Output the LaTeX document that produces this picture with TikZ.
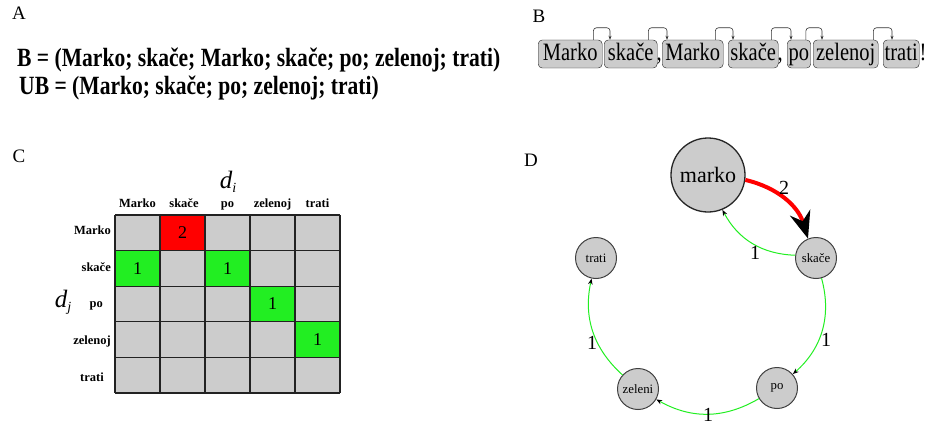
\documentclass[tikz,border=0pt]{standalone}
\usepackage{fontspec}
\setmainfont{Liberation Serif}
\newfontfamily\tallfont{Liberation Serif}[FakeStretch=0.82]
\usetikzlibrary{arrows.meta,calc}
\definecolor{cellgray}{HTML}{CCCCCC}
\definecolor{gr}{HTML}{22EE22}
\definecolor{rd}{HTML}{FF0000}
\definecolor{edgegray}{HTML}{222222}
\begin{document}
\begin{tikzpicture}[x=1pt,y=-1pt,
  panel/.style={inner sep=0pt,font=\fontsize{19}{19}\selectfont},
  sent/.style={anchor=west,inner sep=0pt,font=\tallfont\bfseries\fontsize{26.3}{27}\selectfont},
  wbox/.style={anchor=west,draw=edgegray,fill=cellgray,rounded corners=4pt,inner xsep=1.5pt,inner ysep=2pt,
     text height=18.4pt,text depth=5.6pt,font=\tallfont\fontsize{25}{25}\selectfont},
  conn/.style={draw=black!80,line width=0.6pt,rounded corners=3pt,-{Stealth[length=4pt,width=3pt]}},
  punct/.style={anchor=base west,inner sep=0pt,font=\tallfont\fontsize{25}{25}\selectfont},
  collab/.style={anchor=base,inner sep=0pt,font=\bfseries\fontsize{12.5}{13}\selectfont},
  rowlab/.style={anchor=base east,inner sep=0pt,font=\bfseries\fontsize{12.5}{13}\selectfont},
  num/.style={inner sep=0pt,font=\fontsize{18}{18}\selectfont},
  bignode/.style={circle,draw=black!85,line width=1.3pt,fill=cellgray,minimum size=74pt,inner sep=0pt,font=\fontsize{22}{22}\selectfont},
  smallnode/.style={circle,draw=black!75,line width=1pt,fill=cellgray,minimum size=41pt,inner sep=0pt,font=\fontsize{12.8}{13}\selectfont},
  gedge/.style={draw=gr,line width=1pt,-{Stealth[length=6pt,width=4.5pt,black]}},
  redge/.style={draw=rd,line width=4pt,-{Stealth[length=27pt,width=21pt,black]}},
  elab/.style={inner sep=0pt,font=\fontsize{20}{20}\selectfont}
]
\useasboundingbox (0,0) rectangle (928,428);

% ---------- Panel A ----------
\node[panel] (lA) at (19,13) {A};
\node[sent] (sB) at (17,60) {B = (Marko; skače; Marko; skače; po; zelenoj; trati)};
\node[sent] (sUB) at (19,88) {UB = (Marko; skače; po; zelenoj; trati)};

% ---------- Panel B ----------
\node[panel] (lB) at (539,16) {B};
\node[wbox,minimum width=64pt] (b1) at (538,54) {Marko};
\node[wbox,minimum width=53pt] (b2) at (604,54) {skače};
\node[punct] (p1) at ([xshift=-1pt]b2.east |- b2.base) {,};
\node[wbox,minimum width=61pt] (b3) at (662,54) {Marko};
\node[wbox,minimum width=50pt] (b4) at (728,54) {skače};
\node[punct] (p2) at ([xshift=-1pt]b4.east |- b4.base) {,};
\node[wbox,minimum width=23pt] (b5) at (787,54) {po};
\node[wbox,minimum width=65pt] (b6) at (813,54) {zelenoj};
\node[wbox,minimum width=30pt] (b7) at (883,54) {trati};
\node[punct] (p3) at (b7.east |- b7.base) {!};
\draw[conn] ([xshift=-9pt]b1.north east) -- ++(0,-12) -| ([xshift=6pt]b2.north west);
\draw[conn] ([xshift=-9pt]b2.north east) -- ++(0,-12) -| ([xshift=5pt]b3.north west);
\draw[conn] ([xshift=-8pt]b3.north east) -- ++(0,-12) -| ([xshift=5pt]b4.north west);
\draw[conn] ([xshift=-7pt]b4.north east) -- ++(0,-12) -| ([xshift=4pt]b5.north west);
\draw[conn] ([xshift=-5pt]b5.north east) -- ++(0,-12) -| ([xshift=9pt]b6.north west);
\draw[conn] ([xshift=-5pt]b6.north east) -- ++(0,-12) -| ([xshift=9pt]b7.north west);

% ---------- Panel C ----------
\node[panel] (lC) at (19,156) {C};
\foreach \r in {0,...,4}{
  \foreach \c in {0,...,4}{
    \fill[cellgray] (115+45*\c,215+35.6*\r) rectangle ++(45,35.6);
  }
}
\fill[rd] (160,215) rectangle ++(45,35.6);
\fill[gr] (115,250.6) rectangle ++(45,35.6);
\fill[gr] (205,250.6) rectangle ++(45,35.6);
\fill[gr] (250,286.2) rectangle ++(45,35.6);
\fill[gr] (295,321.8) rectangle ++(45,35.6);
\foreach \c in {0,...,5}{ \draw[edgegray,line width=1.3pt] (115+45*\c,215) -- (115+45*\c,393); }
\foreach \r in {0,...,5}{ \draw[edgegray,line width=1.3pt] (115,215+35.6*\r) -- (340,215+35.6*\r); }
\node[num] (n12) at (182.5,232.8) {2};
\node[num] (n21) at (137.5,268.4) {1};
\node[num] (n23) at (227.5,268.4) {1};
\node[num] (n34) at (272.5,304) {1};
\node[num] (n45) at (317.5,339.6) {1};
\node[collab] (c1) at (137.5,207) {Marko};
\node[collab] (c2) at (184,207) {skače};
\node[collab] (c3) at (227.5,207) {po};
\node[collab] (c4) at (272.5,207) {zelenoj};
\node[collab] (c5) at (317.5,207) {trati};
\node[rowlab] (r1) at (111,234) {Marko};
\node[rowlab] (r2) at (111,271) {skače};
\node[rowlab] (r3) at (103,307) {po};
\node[rowlab] (r4) at (111,344) {zelenoj};
\node[rowlab] (r5) at (104,381) {trati};
\node[inner sep=0pt,font=\fontsize{25}{25}\selectfont] (di) at (228,182) {\textit{d}\raisebox{-0.35ex}{\fontsize{14}{14}\selectfont\textit{i}}};
\node[inner sep=0pt,font=\fontsize{25}{25}\selectfont] (dj) at (63,302) {\textit{d}\raisebox{-0.35ex}{\fontsize{14}{14}\selectfont\textit{j}}};

% ---------- Panel D ----------
\node[panel] (lD) at (531,160) {D};
\node[bignode] (marko) at (708,175) {marko};
\node[smallnode] (skace) at (816,258) {skače};
\node[smallnode] (trati) at (596,258) {trati};
\node[smallnode] (po) at (777,388) {po};
\node[smallnode] (zeleni) at (638,389) {zeleni};
\draw[gedge] (skace) to[bend left=30] (marko);
\draw[redge] (marko) to[bend left=30] (skace);
\draw[gedge] (skace) to[bend left=32] (po);
\draw[gedge] (po) to[bend left=30] (zeleni);
\draw[gedge] (zeleni) to[bend left=30] (trati);
\node[elab] (e1) at (784,188) {2};
\node[elab] (e2) at (755,253) {1};
\node[elab] (e3) at (826,340) {1};
\node[elab] (e4) at (708,415) {1};
\node[elab] (e5) at (592,343) {1};
\end{tikzpicture}
\end{document}
